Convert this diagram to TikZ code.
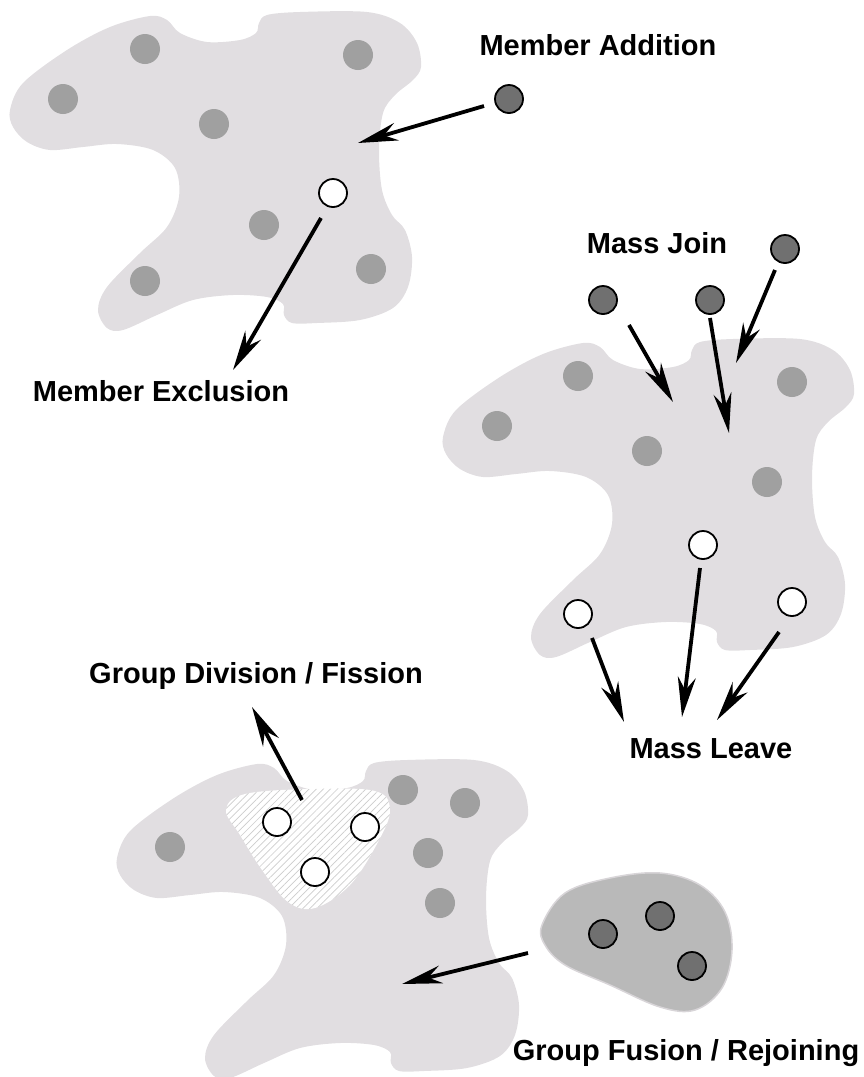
\documentclass[tikz,border=0pt]{standalone}
\usepackage{fontspec}
\setmainfont{Liberation Sans}
\usetikzlibrary{arrows.meta,patterns.meta}

\definecolor{blobfill}{RGB}{225,222,225}
\definecolor{memberfill}{RGB}{160,160,160}
\definecolor{darkfill}{RGB}{112,112,112}
\definecolor{subfill}{RGB}{185,185,185}
\definecolor{subedge}{RGB}{216,213,216}
\definecolor{hatch}{RGB}{205,205,205}

\tikzset{
  groupblob/.style={insert path={plot[smooth cycle,tension=0.55] coordinates{
    (10,110) (23,83) (67,50) (110,27) (150,16) (167,20) (180,33) (207,42)
    (240,40) (256,33) (259,23) (267,15) (300,12) (367,12) (400,23) (417,43)
    (421,67) (413,80) (395,95) (383,113) (379,150) (382,190) (392,215)
    (405,230) (412,257) (408,287) (393,308) (360,320) (317,323) (292,323)
    (284,315) (283,304) (267,297) (233,295) (193,300) (157,315) (123,330)
    (107,328) (98,310) (107,287) (140,253) (167,227) (179,197) (175,168)
    (153,150) (117,144) (83,147) (50,150) (27,142) (13,127)}}},
  member/.style={circle,minimum size=30pt,inner sep=0pt,fill=memberfill},
  joiner/.style={circle,minimum size=28pt,inner sep=0pt,fill=darkfill,draw=black,line width=1.8pt},
  leaver/.style={circle,minimum size=28pt,inner sep=0pt,fill=white,draw=black,line width=1.8pt},
  move/.style={line width=3.8pt,-{Stealth[length=40pt,width=18pt,inset=13pt]}},
  caption/.style={font=\bfseries\fontsize{29}{34}\selectfont,anchor=base,inner sep=0pt}
}

\begin{document}
\begin{tikzpicture}[x=1pt,y=-1pt]
\useasboundingbox (0,0) rectangle (864,1077);

% three copies of the same group outline
\fill[blobfill] [groupblob];
\fill[blobfill,shift={(433,327)}] [groupblob];
\fill[blobfill,shift={(107,748)}] [groupblob];

% splitting sub-group (hatched)
\fill[white] plot[smooth cycle,tension=0.6] coordinates{
  (226,810) (245,794) (310,789) (375,791) (390,810) (378,842) (350,885)
  (315,908) (288,902) (262,870) (240,835)};
\fill[pattern={Lines[angle=45,distance=5pt,line width=0.7pt]},pattern color=hatch]
  plot[smooth cycle,tension=0.6] coordinates{
  (226,810) (245,794) (310,789) (375,791) (390,810) (378,842) (350,885)
  (315,908) (288,902) (262,870) (240,835)};

% merging group
\filldraw[fill=subfill,draw=subedge,line width=1.5pt]
  plot[smooth cycle,tension=0.6] coordinates{
  (542,925) (565,893) (610,878) (660,873) (700,885) (725,912) (732,950)
  (722,988) (695,1010) (660,1007) (610,985) (565,965) (545,945)};

% group 1 members
\node[member] (a1) at (145,49) {};
\node[member] (a2) at (63,99) {};
\node[member] (a3) at (214,124) {};
\node[member] (a4) at (358,55) {};
\node[member] (a5) at (264,225) {};
\node[member] (a6) at (145,281) {};
\node[member] (a7) at (371,269) {};
\node[leaver] (ax) at (333,193) {};
\node[joiner] (an) at (509,99) {};

% group 2 members
\node[member] (b1) at (578,376) {};
\node[member] (b2) at (497,426) {};
\node[member] (b3) at (647,451) {};
\node[member] (b4) at (792,382) {};
\node[member] (b5) at (767,482) {};
\node[leaver] (bx1) at (703,545) {};
\node[leaver] (bx2) at (578,614) {};
\node[leaver] (bx3) at (792,602) {};
\node[joiner] (bn1) at (603,300) {};
\node[joiner] (bn2) at (710,300) {};
\node[joiner] (bn3) at (785,249) {};

% group 3 members
\node[member] (c1) at (170,847) {};
\node[member] (c2) at (403,790) {};
\node[member] (c3) at (465,803) {};
\node[member] (c4) at (428,853) {};
\node[member] (c5) at (440,903) {};
\node[leaver] (cx1) at (277,822) {};
\node[leaver] (cx2) at (365,827) {};
\node[leaver] (cx3) at (315,872) {};
\node[joiner] (d1) at (603,934) {};
\node[joiner] (d2) at (660,916) {};
\node[joiner] (d3) at (692,966) {};

% arrow end points
\coordinate (addS) at (484,106);  \coordinate (addE) at (358,143);
\coordinate (excS) at (321,218);  \coordinate (excE) at (233,370);
\coordinate (j1S) at (629,325);   \coordinate (j1E) at (673,402);
\coordinate (j2S) at (710,318);   \coordinate (j2E) at (729,433);
\coordinate (j3S) at (775,270);   \coordinate (j3E) at (736,363);
\coordinate (l1S) at (592,638);   \coordinate (l1E) at (624,722);
\coordinate (l2S) at (700,568);   \coordinate (l2E) at (682,717);
\coordinate (l3S) at (779,632);   \coordinate (l3E) at (717,720);
\coordinate (divS) at (302,800);  \coordinate (divE) at (252,707);
\coordinate (fusS) at (528,953);  \coordinate (fusE) at (402,984);

\draw[move] (addS) -- (addE);
\draw[move] (excS) -- (excE);
\draw[move] (j1S) -- (j1E);
\draw[move] (j2S) -- (j2E);
\draw[move] (j3S) -- (j3E);
\draw[move] (l1S) -- (l1E);
\draw[move] (l2S) -- (l2E);
\draw[move] (l3S) -- (l3E);
\draw[move] (divS) -- (divE);
\draw[move] (fusS) -- (fusE);

% labels
\node[caption] (tadd) at (598,55) {Member Addition};
\node[caption] (texc) at (161,401) {Member Exclusion};
\node[caption] (tjoin) at (657,253) {Mass Join};
\node[caption] (tleave) at (711,758) {Mass Leave};
\node[caption] (tdiv) at (256,683) {Group Division / Fission};
\node[caption] (tfus) at (686,1060) {Group Fusion / Rejoining};
\end{tikzpicture}
\end{document}
